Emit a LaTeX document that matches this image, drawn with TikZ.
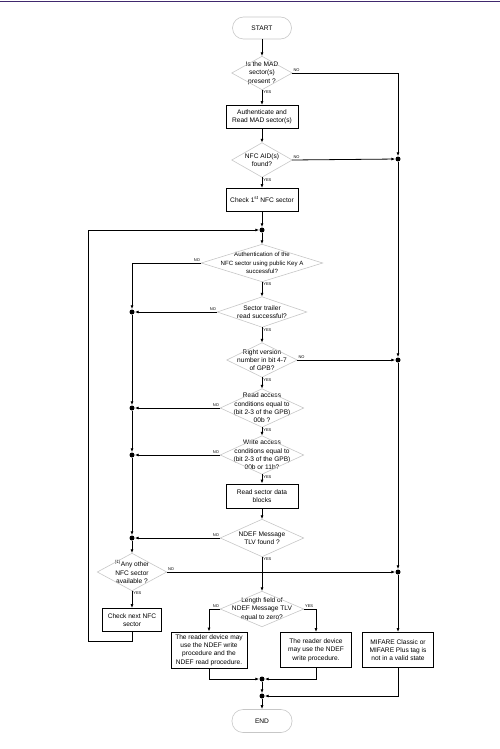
\documentclass[tikz,border=0pt]{standalone}
\usepackage{fontspec}
\setmainfont{Liberation Sans}
\usetikzlibrary{arrows.meta}
\definecolor{diamgray}{gray}{0.78}
\definecolor{rulepurple}{RGB}{64,40,110}

\tikzset{
  txt/.style={font=\fontsize{6.6}{8.3}\selectfont, align=center, inner sep=0pt},
  decision/.style 2 args={txt, minimum width=#1pt, minimum height=#2pt},
  box/.style 2 args={txt, draw, line width=0.8pt, minimum width=#1pt, minimum height=#2pt},
  term/.style={txt, draw=diamgray, line width=0.6pt, rounded corners=11pt, minimum width=59pt, minimum height=22pt},
  dot/.style={circle, fill, inner sep=0pt, minimum size=5pt},
  arr/.style={-{Latex[length=4pt,width=3pt]}, line width=0.8pt},
  yn/.style={font=\fontsize{4}{4}\selectfont, inner sep=1pt},
}

\begin{document}
\begin{tikzpicture}[x=1pt,y=-1pt]
    \useasboundingbox (0,0) rectangle (500,749);
    \draw[rulepurple, line width=1.5pt] (0,1.5) -- (500,1.5);

    \node[term] (start) at (262,28) {START};
    \node[decision={60}{33}] (qmad) at (262,73) {Is the MAD\\sector(s)\\present ?};
    \node[box={72}{23}] (rmad) at (262,117) {Authenticate and\\Read MAD sector(s)};
    \node[decision={60}{34}] (qaid) at (262,160) {NFC AID(s)\\found?};
    \node[box={72}{23}] (chk1) at (262,200) {Check 1\textsuperscript{st} NFC sector};
    \node[decision={121}{37}, font=\fontsize{6.1}{8.3}\selectfont] (qauth) at (262,263) {Authentication of the\\NFC sector using public Key A\\successful?};
    \node[decision={89}{30}] (qtrail) at (262,312) {Sector trailer\\read successful?};
    \node[decision={70}{34}] (qver) at (262,360) {Right version\\number in bit 4-7\\of GPB?};
    \node[decision={83}{38}] (qread) at (262,408) {Read access\\conditions equal to\\(bit 2-3 of the GPB)\\00b ?};
    \node[decision={83}{38}] (qwrite) at (262,455) {Write access\\conditions equal to\\(bit 2-3 of the GPB)\\00b or 11b?};
    \node[box={72}{24}] (rdata) at (262,496) {Read sector data\\blocks};
    \node[decision={83}{37}] (qndef) at (262,538) {NDEF Message\\TLV found ?};
    \node[decision={69}{37}] (qmore) at (132,572) {\textsuperscript{(1)}Any other\\NFC sector\\available ?};
    \node[box={59}{23}] (chknx) at (132,620) {Check next NFC\\sector};
    \node[decision={83}{35}] (qlen) at (262,609) {Length field of\\NDEF Message TLV\\equal to zero?};
    \node[box={76}{36}] (boxa) at (209,650) {The reader device may\\use the NDEF write\\procedure and the\\NDEF read procedure.};
    \node[box={71}{35}] (boxb) at (316,650) {The reader device\\may use the NDEF\\write procedure.};
    \node[box={71}{35}] (boxc) at (398,650) {MIFARE Classic or\\MIFARE Plus tag is\\not in a valid state};
    \node[term, minimum width=60pt, minimum height=23pt] (end) at (262,721) {END};

    \foreach \d in {qmad,qaid,qauth,qtrail,qver,qread,qwrite,qndef,qmore,qlen}
        \draw[diamgray, line width=0.6pt] (\d.north) -- (\d.east) -- (\d.south) -- (\d.west) -- cycle;

    \node[dot] (jl) at (262,230) {};
    \foreach \n/\y in {1/312,2/408,3/455,4/538}
        \node[dot] (jn\n) at (132,\y) {};
    \foreach \n/\y in {1/159,2/360,3/572}
        \node[dot] (jr\n) at (398,\y) {};
    \node[dot] (jb1) at (262,679) {};
    \node[dot] (jb2) at (262,696) {};
    \coordinate (lp) at (88,230);

    % main column
    \draw[arr] (start) -- (qmad);
    \draw[arr] (qmad.south) -- node[yn, anchor=north west, pos=0] {YES} (rmad);
    \draw[arr] (rmad) -- (qaid);
    \draw[arr] (qaid.south) -- node[yn, anchor=north west, pos=0] {YES} (chk1);
    \draw[arr] (chk1) -- (jl);
    \draw[arr] (jl) -- (qauth);
    \draw[arr] (qauth.south) -- node[yn, anchor=north west, pos=0] {YES} (qtrail);
    \draw[arr] (qtrail.south) -- node[yn, anchor=north west, pos=0] {YES} (qver);
    \draw[arr] (qver.south) -- node[yn, anchor=north west, pos=0] {YES} (qread);
    \draw[arr] (qread.south) -- node[yn, anchor=north west, pos=0] {YES} (qwrite);
    \draw[arr] (qwrite.south) -- node[yn, anchor=north west, pos=0] {YES} (rdata);
    \draw[arr] (rdata) -- (qndef);
    \draw[arr] (qndef.south) -- node[yn, anchor=north west, pos=0] {YES} (qlen);

    % NO branches to the left
    \draw[arr] (qauth.west) node[yn, anchor=south east] {NO} -| (jn1);
    \draw[arr] (qtrail.west) node[yn, anchor=south east] {NO} -- (jn1);
    \draw[arr] (qread.west) node[yn, anchor=south east] {NO} -- (jn2);
    \draw[arr] (qwrite.west) node[yn, anchor=south east] {NO} -- (jn3);
    \draw[arr] (qndef.west) node[yn, anchor=south east] {NO} -- (jn4);
    \draw[arr] (jn1) -- (jn2);
    \draw[arr] (jn2) -- (jn3);
    \draw[arr] (jn3) -- (jn4);
    \draw[arr] (jn4) -- (qmore);
    \draw[arr] (qmore.south) -- node[yn, anchor=north west, pos=0] {YES} (chknx);
    \draw[arr] (chknx.south) -- ++(0,9) -| (lp) -- (jl);

    % NO branches to the right
    \draw[arr] (qmad.east) node[yn, anchor=south west] {NO} -| (jr1);
    \draw[arr] (qaid.east) node[yn, anchor=south west] {NO} -- (jr1);
    \draw[arr] (qver.east) node[yn, anchor=south west] {NO} -- (jr2);
    \draw[arr] (qmore.east) node[yn, anchor=south west] {NO} -- (jr3);
    \draw[arr] (jr1) -- (jr2);
    \draw[arr] (jr2) -- (jr3);
    \draw[arr] (jr3) -- (boxc);

    % length check and end
    \draw[arr] (qlen.west) node[yn, anchor=south east] {NO} -| (boxa);
    \draw[arr] (qlen.east) node[yn, anchor=south west] {YES} -| (boxb);
    \draw[arr] (boxa.south) |- (jb1);
    \draw[arr] (boxb.south) |- (jb1);
    \draw[arr] (jb1) -- (jb2);
    \draw[arr] (boxc.south) |- (jb2);
    \draw[arr] (jb2) -- (end);
\end{tikzpicture}
\end{document}
